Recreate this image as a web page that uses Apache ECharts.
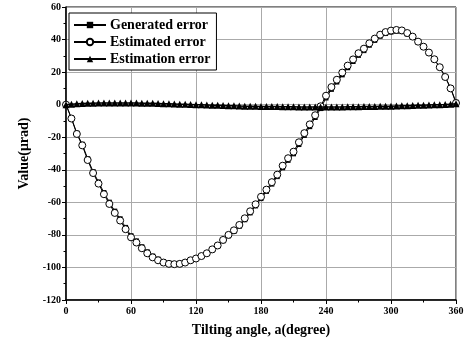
<!DOCTYPE html>
<html>
<head>
<meta charset="utf-8">
<script src="https://cdn.jsdelivr.net/npm/echarts@6/dist/echarts.min.js"></script>
<style>
  html, body { margin: 0; padding: 0; background: #fff; }
  #chart { width: 470px; height: 349px; }
</style>
</head>
<body>
<div id="chart"></div>
<script>
// tilting angle samples (degree)
const angles = [0, 5, 10, 15, 20, 25, 30, 35, 40, 45, 50, 55, 60, 65, 70, 75, 80, 85, 90, 95,
  100, 105, 110, 115, 120, 125, 130, 135, 140, 145, 150, 155, 160, 165, 170, 175, 180, 185, 190, 195,
  200, 205, 210, 215, 220, 225, 230, 235, 240, 245, 250, 255, 260, 265, 270, 275, 280, 285, 290, 295,
  300, 305, 310, 315, 320, 325, 330, 335, 340, 345, 350, 355, 360];

const generatedError = [0, -8.2, -17.5, -24.3, -33.2, -41.1, -47.5, -54, -59.9, -65.4, -70.1, -75.4, -80.5, -83.7, -87.3, -90.4, -93, -94.9, -96.4, -97.3,
  -97.6, -97.5, -96.8, -95.5, -94.5, -93.1, -91.5, -89.2, -86.9, -83.6, -80.6, -77.9, -74.7, -70.7, -66.5, -62.2, -57.7, -53.3, -48.8, -44.2,
  -38.8, -34.2, -30.2, -24.5, -18.9, -13.5, -7.9, -2.4, 4.1, 9.4, 13.9, 18.3, 22.7, 26.5, 30.3, 33.2, 36.5, 39.5, 42, 43.7,
  44.6, 45.1, 44.9, 43.4, 41.3, 38.3, 35.3, 31.8, 27.8, 23, 17.1, 10.3, 1.5];

const estimatedError = [0, -8.5, -18, -25, -34, -42, -48.5, -55, -61, -66.5, -71.2, -76.5, -81.5, -84.7, -88.2, -91.3, -93.8, -95.6, -97, -97.8,
  -98, -97.8, -97, -95.6, -94.5, -93, -91.3, -88.9, -86.5, -83.1, -80, -77.2, -73.9, -69.8, -65.5, -61.2, -56.6, -52.2, -47.6, -43,
  -37.5, -32.9, -28.9, -23.1, -17.5, -12.1, -6.5, -1, 5.5, 10.8, 15.3, 19.7, 24, 27.8, 31.6, 34.4, 37.7, 40.6, 43, 44.6,
  45.5, 45.9, 45.6, 44, 41.8, 38.7, 35.6, 32, 27.9, 23, 17, 10, 1];

const estimationError = [0, 0.3, 0.5, 0.7, 0.8, 0.9, 1.0, 1.0, 1.1, 1.1, 1.1, 1.1, 1.0, 1.0, 0.9, 0.9, 0.8, 0.7, 0.6, 0.5,
  0.4, 0.3, 0.2, 0.1, 0, -0.1, -0.2, -0.3, -0.4, -0.5, -0.6, -0.7, -0.8, -0.9, -1.0, -1.0, -1.1, -1.1, -1.2, -1.2,
  -1.3, -1.3, -1.3, -1.4, -1.4, -1.4, -1.4, -1.4, -1.4, -1.4, -1.4, -1.4, -1.3, -1.3, -1.3, -1.2, -1.2, -1.1, -1.0, -0.9,
  -0.9, -0.8, -0.7, -0.6, -0.5, -0.4, -0.3, -0.2, -0.1, 0, 0.1, 0.3, 0.5];

const seriesNames = ["Generated error", "Estimated error", "Estimation error"];

const pairs = (vals) => angles.map((a, i) => [a, vals[i]]);

const font = "'Liberation Serif', 'DejaVu Serif', serif";

const chart = echarts.init(document.getElementById("chart"));

const option = {
  animation: false,
  backgroundColor: "#fff",
  grid: {
    left: 66, right: 14, top: 7, bottom: 49,
    show: true, borderColor: "#000", borderWidth: 1
  },
  legend: {
    orient: "vertical",
    left: 69, top: 13,
    padding: [5, 6, 4, 4],
    itemGap: 3,
    itemWidth: 32,
    itemHeight: 8,
    backgroundColor: "#fff",
    borderColor: "#000",
    borderWidth: 1,
    textStyle: { fontFamily: font, fontWeight: "bold", fontSize: 14, color: "#000", padding: [0, 0, 0, -1] },
    data: seriesNames
  },
  xAxis: {
    type: "value",
    min: 0, max: 360, interval: 60,
    name: "Tilting angle, a(degree)",
    nameLocation: "middle",
    nameGap: 23,
    nameTextStyle: { fontFamily: font, fontWeight: "bold", fontSize: 14, color: "#000" },
    axisLine: { onZero: false, lineStyle: { color: "#000", width: 1.5 } },
    axisTick: { show: true, length: 4, lineStyle: { color: "#000" } },
    minorTick: { show: true, splitNumber: 2, length: 2.5, lineStyle: { color: "#000" } },
    axisLabel: { fontFamily: font, fontWeight: "bold", fontSize: 10, color: "#000", margin: 6 },
    splitLine: { show: true, lineStyle: { color: "#aaa", width: 1 } }
  },
  yAxis: {
    type: "value",
    min: -120, max: 60, interval: 20,
    name: "Value(μrad)",
    nameLocation: "middle",
    nameGap: 32,
    nameTextStyle: { fontFamily: font, fontWeight: "bold", fontSize: 14, color: "#000" },
    axisLine: { lineStyle: { color: "#000", width: 1.5 } },
    axisTick: { show: true, length: 4, lineStyle: { color: "#000" } },
    minorTick: { show: true, splitNumber: 2, length: 2.5, lineStyle: { color: "#000" } },
    axisLabel: { fontFamily: font, fontWeight: "bold", fontSize: 10, color: "#000", margin: 5 },
    splitLine: { show: true, lineStyle: { color: "#aaa", width: 1 } }
  },
  series: [
    {
      name: seriesNames[0],
      type: "line",
      data: pairs(generatedError),
      symbol: "rect",
      symbolSize: 5,
      lineStyle: { color: "#000", width: 1 },
      itemStyle: { color: "#000" },
      z: 2
    },
    {
      name: seriesNames[1],
      type: "line",
      data: pairs(estimatedError),
      symbol: "circle",
      symbolSize: 7,
      lineStyle: { color: "#000", width: 1 },
      itemStyle: { color: "#fff", borderColor: "#000", borderWidth: 1 },
      z: 3
    },
    {
      name: seriesNames[2],
      type: "line",
      data: pairs(estimationError),
      symbol: "triangle",
      symbolSize: 7,
      lineStyle: { color: "#000", width: 1.5 },
      itemStyle: { color: "#000" },
      z: 4
    }
  ]
};

chart.setOption(option);
</script>
</body>
</html>
